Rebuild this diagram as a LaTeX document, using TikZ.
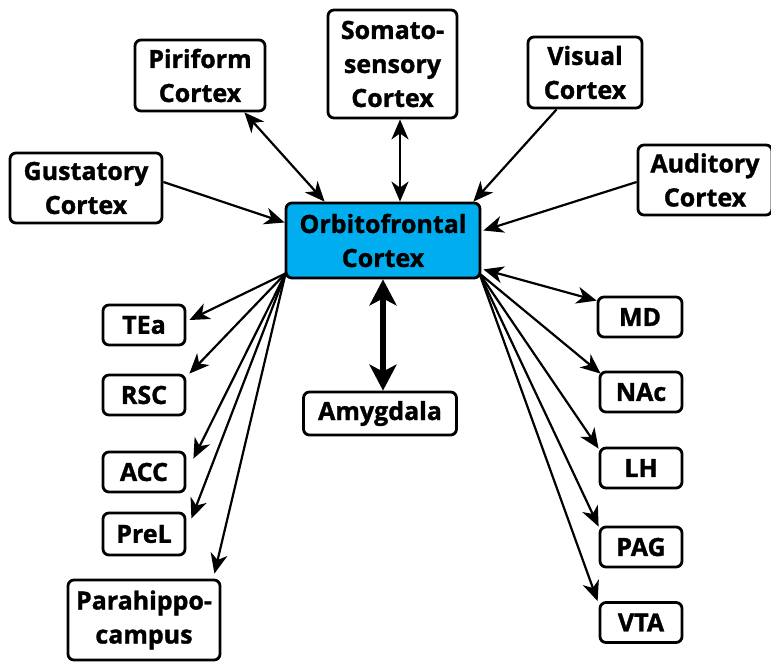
\documentclass[tikz,border=0pt]{standalone}
\usepackage{fontspec}
\setmainfont{Open Sans}[BoldFeatures={FakeBold=1.3}]
\usetikzlibrary{arrows.meta,calc}
\definecolor{ofcblue}{RGB}{0,174,239}
\begin{document}
\begin{tikzpicture}[x=1pt,y=-1pt,
  font=\fontsize{25}{34}\selectfont\bfseries,
  box/.style={draw=black,line width=2.8pt,rounded corners=6pt,fill=white,inner sep=0pt,align=center},
  conn/.style={line width=2.2pt,-{Stealth[length=20pt,width=17pt,inset=6pt]}},
  bconn/.style={line width=2.2pt,{Stealth[length=20pt,width=17pt,inset=6pt]}-{Stealth[length=20pt,width=17pt,inset=6pt]}},
  thick/.style={line width=6.5pt,{Stealth[length=26pt,width=27pt,inset=7pt]}-{Stealth[length=26pt,width=27pt,inset=7pt]}}]
\useasboundingbox (0,0) rectangle (771,662);
% nodes
\node[box,fill=ofcblue,minimum width=194pt,minimum height=75pt] (ofc) at (383,240.5) {Orbitofrontal\\Cortex};
\node[box,minimum width=152pt,minimum height=70pt] (gust) at (86,188) {Gustatory\\Cortex};
\node[box,minimum width=130pt,minimum height=71pt] (piri) at (200,75.5) {Piriform\\Cortex};
\node[box,minimum width=129pt,minimum height=108pt] (soma) at (392.5,64) {Somato-\\sensory\\Cortex};
\node[box,minimum width=114pt,minimum height=71pt] (vis) at (585,72.5) {Visual\\Cortex};
\node[box,minimum width=134pt,minimum height=70pt] (aud) at (705,180) {Auditory\\Cortex};
\node[box,minimum width=82pt,minimum height=40pt] (tea) at (144,325) {TEa};
\node[box,minimum width=82pt,minimum height=40pt] (rsc) at (144,395) {RSC};
\node[box,minimum width=82pt,minimum height=40pt] (acc) at (144,472) {ACC};
\node[box,minimum width=82pt,minimum height=42pt] (prel) at (144,534) {PreL};
\node[box,minimum width=152pt,minimum height=80pt] (para) at (144,620) {Parahippo-\\campus};
\node[box,minimum width=153pt,minimum height=43pt] (amy) at (380,413.5) {Amygdala};
\node[box,minimum width=84pt,minimum height=40pt] (md) at (640,317) {MD};
\node[box,minimum width=82pt,minimum height=40pt] (nac) at (641,392) {NAc};
\node[box,minimum width=82pt,minimum height=40pt] (lh) at (641,468) {LH};
\node[box,minimum width=82pt,minimum height=40pt] (pag) at (641,547) {PAG};
\node[box,minimum width=82pt,minimum height=40pt] (vta) at (641,622.5) {VTA};
% top connectors
\draw[conn] ([yshift=6pt]gust.east) -- ([yshift=18pt]ofc.west);
\draw[bconn] ([xshift=-22pt]piri.south east) -- ([xshift=40pt]ofc.north west);
\draw[bconn] ([xshift=7.5pt]soma.south) -- ([xshift=7.5pt]soma.south |- ofc.north);
\draw[conn] ([xshift=30pt]vis.south west) -- ([xshift=-8pt]ofc.north east);
\draw[conn] ([yshift=-2pt]aud.west) -- ([yshift=10pt,xshift=2pt]ofc.east);
\draw[thick] (ofc.south) -- (ofc.south |- amy.north);
% left fan
\coordinate (lf) at ([xshift=1pt,yshift=6pt]ofc.south west);
\draw[conn] (lf) -- ([xshift=3pt,yshift=5pt]tea.east);
\draw[conn] (lf) -- ([xshift=3pt]rsc.north east);
\draw[conn] (lf) -- ([xshift=7pt,yshift=-8pt]acc.north east);
\draw[conn] (lf) -- ([xshift=5pt,yshift=-7pt]prel.north east);
\draw[conn] (lf) -- ([xshift=-7pt,yshift=5pt]para.north east);
% right fan
\coordinate (rf) at ([xshift=-2pt,yshift=6pt]ofc.south east);
\draw[bconn] ([xshift=2pt,yshift=10pt]ofc.south east) -- ([yshift=-5pt]md.north west);
\draw[conn] (rf) -- ([xshift=2pt,yshift=-3pt]nac.north west);
\draw[conn] (rf) -- ([yshift=-2pt]lh.north west);
\draw[conn] (rf) -- ([yshift=-1pt]pag.north west);
\draw[conn] (rf) -- ([xshift=-1pt]vta.north west);
\end{tikzpicture}
\end{document}
